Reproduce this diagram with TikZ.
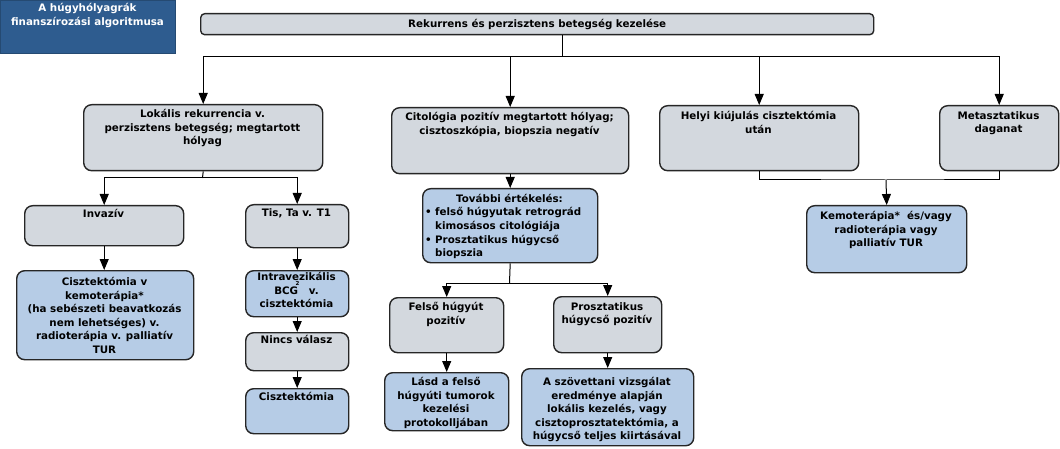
\documentclass[tikz,border=0pt]{standalone}
\usepackage{fontspec}
\setmainfont{DejaVu Sans}
\usetikzlibrary{arrows.meta}
\definecolor{gfill}{HTML}{D3D8DE}
\definecolor{bfill}{HTML}{B6CCE6}
\definecolor{hdrblue}{HTML}{2E5C8F}
\begin{document}
\begin{tikzpicture}[x=1pt,y=-1pt,
  box/.style={draw=black!85, line width=1.4pt, rounded corners=8pt, inner sep=0pt, anchor=north west},
  gbox/.style={box, fill=gfill},
  bbox/.style={box, fill=bfill},
  txt/.style={font=\fontsize{10.3}{13.6}\selectfont\bfseries, align=center, inner sep=0pt, anchor=north},
  arr/.style={-{Triangle[width=9pt,length=11pt]}, line width=1pt},
  con/.style={line width=1pt}]
\useasboundingbox (0,0) rectangle (1060,449);

% header
\node[box, fill=hdrblue, draw=hdrblue!80!black, rounded corners=0pt, minimum width=175pt, minimum height=53pt] (hdr) at (0,0) {};
\node[txt, text=white] (hdrt) at (87.5,3) {A húgyhólyagrák\\finanszírozási algoritmusa};

% top
\node[gbox, rounded corners=4pt, minimum width=673pt, minimum height=21pt] (top) at (200,13) {};
\node[txt, anchor=center] (topt) at (top.center) {Rekurrens és perzisztens betegség kezelése};

% level 1
\node[gbox, minimum width=239pt, minimum height=66pt] (lok) at (83,104) {};
\node[txt] (lokt) at (202.5,109) {Lokális rekurrencia v.\\perzisztens betegség; megtartott\\hólyag};
\node[gbox, minimum width=237pt, minimum height=66pt] (cito) at (391,107) {};
\node[txt] (citot) at (509.5,112) {Citológia pozitív megtartott hólyag;\\cisztoszkópia, biopszia negatív};
\node[gbox, minimum width=199pt, minimum height=65pt] (helyi) at (659,105) {};
\node[txt] (helyit) at (758.5,111) {Helyi kiújulás cisztektómia\\után};
\node[gbox, minimum width=119pt, minimum height=65pt] (meta) at (939,105) {};
\node[txt] (metat) at (998.5,111) {Metasztatikus\\daganat};

% left branch
\node[gbox, minimum width=159pt, minimum height=40pt] (inv) at (24,205) {};
\node[txt] (invt) at (103.5,209) {Invazív};
\node[gbox, minimum width=103pt, minimum height=43pt] (tis) at (245,204) {};
\node[txt] (tist) at (296.5,208) {Tis, Ta v. T1};
\node[bbox, minimum width=177pt, minimum height=89pt] (cisz) at (16,270) {};
\node[txt] (ciszt) at (104.5,277) {Cisztektómia v\\kemoterápia*\\(ha sebészeti beavatkozás\\nem lehetséges) v.\\radioterápia v. palliatív\\TUR};
\node[bbox, minimum width=103pt, minimum height=46pt] (intra) at (245,270) {};
\node[txt] (intrat) at (296.5,272) {Intravezikális\\BCG\ \ \ v.\\cisztektómia};
\node[font=\fontsize{5.5}{6}\selectfont\bfseries, inner sep=0pt] (sup2) at (297.5,283) {2};
\node[gbox, minimum width=103pt, minimum height=38pt] (nincs) at (245,332) {};
\node[txt] (nincst) at (296.5,335) {Nincs válasz};
\node[bbox, minimum width=103pt, minimum height=45pt] (cisz2) at (245,388) {};
\node[txt] (cisz2t) at (296.5,392) {Cisztektómia};

% middle branch
\node[bbox, minimum width=175pt, minimum height=74pt] (tov) at (422,188) {};
\node[txt] (tovt) at (509.5,194) {További értékelés:};
\node[txt, anchor=north west, align=left] (tovl) at (425,207.5) {\makebox[10pt][l]{•}felső húgyutak retrográd\\\hspace*{10pt}kimosásos citológiája\\\makebox[10pt][l]{•}Prosztatikus húgycső\\\hspace*{10pt}biopszia};
\node[gbox, minimum width=114pt, minimum height=55pt] (felso) at (389,297) {};
\node[txt] (felsot) at (446,302) {Felső húgyút\\pozitív};
\node[gbox, minimum width=108pt, minimum height=56pt] (prosz) at (553,296) {};
\node[txt] (proszt) at (607,302) {Prosztatikus\\húgycső pozitív};
\node[bbox, minimum width=124pt, minimum height=58pt] (lasd) at (384,372) {};
\node[txt] (lasdt) at (446,377) {Lásd a felső\\húgyúti tumorok\\kezelési\\protokolljában};
\node[bbox, minimum width=172pt, minimum height=77pt] (szov) at (521,368) {};
\node[txt] (szovt) at (607,377) {A szövettani vizsgálat\\eredménye alapján\\lokális kezelés, vagy\\cisztoprosztatektómia, a\\húgycső teljes kiirtásával};

% right branch
\node[bbox, minimum width=160pt, minimum height=67pt] (kemo) at (806,205) {};
\node[txt] (kemot) at (886,211) {Kemoterápia*\ \ és/vagy\\radioterápia vagy\\palliatív TUR};

% connectors
\coordinate (bus) at (562,57);
\draw[con] (top.south -| bus) -- (bus);
\draw[con] (lok.north |- bus) -- (meta.north |- bus);
\draw[arr] (bus) -| (lok.north);
\draw[arr] (bus) -| (cito.north);
\draw[arr] (bus) -| (helyi.north);
\draw[arr] (bus) -| (meta.north);

\coordinate (lj) at (202.5,178);
\draw[con] (lok.south) -- (lj);
\draw[arr] (lj) -| (inv.north);
\draw[arr] (lj) -| (tis.north);
\draw[arr] (inv.south) -- (inv.south |- cisz.north);
\draw[arr] (tis.south) -- (intra.north);
\draw[arr] (intra.south) -- (nincs.north);
\draw[arr] (nincs.south) -- (cisz2.north);

\draw[arr] (cito.south) -- (tov.north);
\coordinate (mj) at (509.5,283);
\draw[con] (tov.south) -- (mj);
\draw[arr] (mj) -| (felso.north);
\draw[arr] (mj) -| (prosz.north);
\draw[arr] (felso.south) -- (lasd.north);
\draw[arr] (prosz.south) -- (szov.north);

\coordinate (rj) at (886,180);
\draw[con] (helyi.south) |- (rj) -| (meta.south);
\draw[arr] (rj) -- (kemo.north);
\end{tikzpicture}
\end{document}
